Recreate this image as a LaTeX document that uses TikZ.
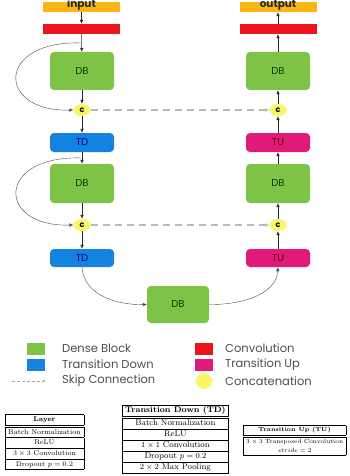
\documentclass[tikz,border=0pt]{standalone}
\usepackage{fontspec}
\newfontfamily\geofont{Poppins}
\usetikzlibrary{arrows.meta,shapes.geometric}

\definecolor{inorange}{RGB}{250,182,20}
\definecolor{convred}{RGB}{238,20,30}
\definecolor{dbgreen}{RGB}{125,196,70}
\definecolor{tdblue}{RGB}{20,130,225}
\definecolor{tumagenta}{RGB}{225,25,120}
\definecolor{catyellow}{RGB}{252,245,100}

\begin{document}
\begin{tikzpicture}[x=1pt,y=-1pt,
  bar/.style={minimum width=77pt, minimum height=10pt, inner sep=0pt},
  bartext/.style={inner sep=0pt, font=\geofont\bfseries\fontsize{10.5}{11}\selectfont, text=black!85},
  block/.style={rounded corners=4pt, minimum width=64pt, inner sep=0pt,
    font=\geofont\fontsize{10}{11}\selectfont},
  cat/.style={ellipse, fill=catyellow, draw=catyellow!60, minimum width=17pt,
    minimum height=12pt, inner sep=0pt, font=\geofont\bfseries\fontsize{8}{9}\selectfont},
  flow/.style={-{Latex[length=4pt,width=3.5pt]}, black!85, line width=0.5pt},
  loop/.style={-{Latex[length=4pt,width=3.5pt]}, black!70, line width=0.4pt},
  skip/.style={-{Latex[open,length=4pt,width=4pt]}, gray!55, line width=1.2pt,
    dash pattern=on 7pt off 5pt},
  legtext/.style={anchor=west, inner sep=0pt, text=black!70,
    font=\geofont\fontsize{11.5}{13}\selectfont},
  legbox/.style={minimum width=18pt, minimum height=12pt, inner sep=0pt}
]
\useasboundingbox (0,0) rectangle (349,476);

% Contracting path
\node[bar, fill=inorange] (inL) at (81.5,7) {};
\node[bartext] (inT) at (81.5,5) {input};
\node[bar, fill=convred] (convL) at (81.5,29) {};
\node[block, fill=dbgreen, minimum height=38pt, text=green!25!black] (dbL1) at (82,71) {DB};
\node[cat] (cL1) at (82,110) {c};
\node[block, fill=tdblue, minimum height=19pt, text=blue!50!black] (tdL1) at (82,142.5) {TD};
\node[block, fill=dbgreen, minimum height=39pt, text=green!25!black] (dbL2) at (82,183.5) {DB};
\node[cat] (cL2) at (82,225) {c};
\node[block, fill=tdblue, minimum height=18pt, text=blue!50!black] (tdL2) at (82,258) {TD};

% Bottleneck
\node[block, fill=dbgreen, minimum width=62pt, minimum height=37pt, text=green!25!black] (dbB) at (178,304.5) {DB};

% Expanding path
\node[bar, fill=inorange] (outR) at (278,7) {};
\node[bartext] (outT) at (278,5) {output};
\node[bar, fill=convred] (convR) at (278,29) {};
\node[block, fill=dbgreen, minimum height=38pt, text=green!25!black] (dbR1) at (278,71) {DB};
\node[cat] (cR1) at (278,110) {c};
\node[block, fill=tumagenta, minimum height=19pt, text=red!40!black] (tuR1) at (278,142.5) {TU};
\node[block, fill=dbgreen, minimum height=39pt, text=green!25!black] (dbR2) at (278,183.5) {DB};
\node[cat] (cR2) at (278,225) {c};
\node[block, fill=tumagenta, minimum height=18pt, text=red!40!black] (tuR2) at (278,258) {TU};

% Arrows down the left side
\draw[flow] (inL) -- (convL);
\draw[flow] (convL) -- (dbL1);
\draw[flow] (dbL1) -- (cL1);
\draw[flow] (cL1) -- (tdL1);
\draw[flow] (tdL1) -- (dbL2);
\draw[flow] (dbL2) -- (cL2);
\draw[flow] (cL2) -- (tdL2);

% Arrows up the right side
\draw[flow] (tuR2) -- (cR2);
\draw[flow] (cR2) -- (dbR2);
\draw[flow] (dbR2) -- (tuR1);
\draw[flow] (tuR1) -- (cR1);
\draw[flow] (cR1) -- (dbR1);
\draw[flow] (dbR1) -- (convR);
\draw[flow] (convR) -- (outR);

% Dense block loops
\coordinate (loopA) at (81.5,43);
\coordinate (loopB) at (82,158);
\draw[loop] (loopA) .. controls (-4,40) and (-4,112) .. (cL1.west);
\draw[loop] (loopB) .. controls (-4,155) and (-4,227) .. (cL2.west);

% Down to and up from the bottleneck
\draw[loop] (tdL2.south) .. controls (84,296) and (118,305) .. (dbB.west);
\draw[loop] (dbB.east) .. controls (238,305) and (276,296) .. (tuR2.south);

% Skip connections
\draw[skip] (cL1.east) -- (cR1.west);
\draw[skip] (cL2.east) -- (cR2.west);

% Legend
\node[legbox, fill=dbgreen] (kDB) at (36,348.5) {};
\node[legbox, fill=tdblue] (kTD) at (36,364.5) {};
\coordinate (kSa) at (12,381);
\coordinate (kSb) at (46,381);
\draw[-{Latex[open,length=3pt,width=3pt]}, gray!70, line width=0.6pt, dash pattern=on 3pt off 2pt] (kSa) -- (kSb);
\node[legbox, fill=convred] (kCV) at (204,348.5) {};
\node[legbox, fill=tumagenta] (kTU) at (204,364.5) {};
\node[circle, fill=catyellow, minimum size=16pt, inner sep=0pt] (kC) at (204,381) {};
\node[legtext] (tDB) at (62,348.5) {Dense Block};
\node[legtext] (tTD) at (62,364.5) {Transition Down};
\node[legtext] (tSk) at (62,381) {Skip Connection};
\node[legtext] (tCV) at (225,348.5) {Convolution};
\node[legtext] (tTU) at (225,364.5) {Transition Up};
\node[legtext] (tC) at (225,381) {Concatenation};

% Tables
\node[anchor=north west, inner sep=0pt, font=\fontsize{7}{8.5}\selectfont] (tabL) at (5,414) {%
  \setlength{\tabcolsep}{3pt}\renewcommand{\arraystretch}{1.2}%
  \begin{tabular}{|c|}
    \hline \textbf{Layer} \\ \hline\hline
    Batch Normalization \\ \hline
    ReLU \\ \hline
    $3 \times 3$ Convolution \\ \hline
    Dropout $p = 0.2$ \\ \hline
  \end{tabular}};
\node[anchor=north west, inner sep=0pt, font=\fontsize{8.3}{10}\selectfont] (tabTD) at (122,405) {%
  \setlength{\tabcolsep}{3pt}\renewcommand{\arraystretch}{1.05}%
  \begin{tabular}{|c|}
    \hline \textbf{Transition Down (TD)} \\ \hline\hline
    Batch Normalization \\ \hline
    ReLU \\ \hline
    $1 \times 1$ Convolution \\ \hline
    Dropout $p = 0.2$ \\ \hline
    $2 \times 2$ Max Pooling \\ \hline
  \end{tabular}};
\node[anchor=north west, inner sep=0pt, font=\fontsize{6}{7.5}\selectfont] (tabTU) at (243,425) {%
  \setlength{\tabcolsep}{3pt}\renewcommand{\arraystretch}{1.2}%
  \begin{tabular}{|c|}
    \hline \textbf{Transition Up (TU)} \\ \hline\hline
    $3 \times 3$ Transposed Convolution \\
    $stride = 2$ \\ \hline
  \end{tabular}};
\end{tikzpicture}
\end{document}
